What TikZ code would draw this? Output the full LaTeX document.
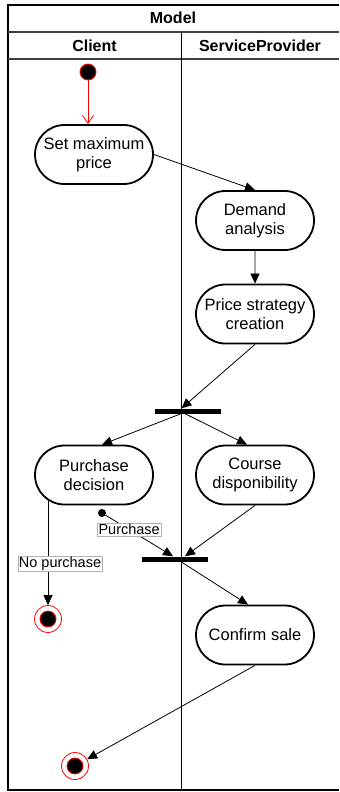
\documentclass[tikz,border=0pt]{standalone}
\usepackage{fontspec}
\setmainfont{Liberation Sans}
\usetikzlibrary{shapes.misc,arrows.meta}

\begin{document}
\begin{tikzpicture}[x=1bp,y=-1bp,
  action/.style={draw,line width=1.8bp,rounded rectangle,minimum width=122bp,
    minimum height=59bp,inner sep=2bp,align=center,
    font=\fontsize{16.5bp}{18.5bp}\selectfont},
  bar/.style={fill=black,minimum width=66bp,minimum height=5bp,inner sep=0pt},
  initial/.style={circle,draw=red,fill=black,line width=0.8bp,minimum size=16bp,inner sep=0pt},
  final/.style={circle,draw=red,line width=0.8bp,minimum size=27bp,inner sep=0pt,
    path picture={\filldraw[draw=red,fill=black] (path picture bounding box.center) circle (8bp);}},
  dot/.style={circle,fill=black,minimum size=8bp,inner sep=0pt},
  flow/.style={-{Triangle[length=10bp,width=9bp]},line width=0.8bp},
  edgelabel/.style={fill=white,draw=gray!60,line width=0.4bp,inner sep=1bp,
    font=\fontsize{14.5bp}{16bp}\selectfont},
  head/.style={font=\bfseries\fontsize{16bp}{18bp}\selectfont}]
  \useasboundingbox (0,0) rectangle (339,792);

  % swimlanes
  \draw[line width=1.2bp] (339,5) -- (8,5) -- (8,790) -- (339,790);
  \draw[line width=1.6bp,black!75] (8,32) -- (339,32);
  \draw[line width=1.6bp,black!75] (8,59) -- (339,59);
  \draw[line width=1bp] (181.5,32) -- (181.5,790);
  \node[head] (model) at (173,18) {Model};
  \node[head] (client) at (94.5,45.5) {Client};
  \node[head] (provider) at (260,45.5) {ServiceProvider};

  % activities
  \node[initial] (start) at (88,72) {};
  \node[action] (setprice) at (94,154.5) {Set maximum\\price};
  \node[action] (demand) at (255,220.5) {Demand\\analysis};
  \node[action] (strategy) at (255,314) {Price strategy\\creation};
  \node[bar] (fork) at (188,411) {};
  \node[action] (purchase) at (94,475) {Purchase\\decision};
  \node[action] (course) at (255,475) {Course\\disponibility};
  \node[dot] (pdot) at (102,513) {};
  \node[bar] (join) at (175,559) {};
  \node[final] (endno) at (48,619) {};
  \node[action] (confirm) at (255,635) {Confirm sale};
  \node[final] (endsale) at (75,766) {};

  % flows
  \draw[red,line width=0.8bp,-{Straight Barb[length=8bp,width=11bp]}] (start) -- (start |- setprice.north);
  \draw[flow] (setprice.east) -- (demand.north);
  \draw[flow] (demand) -- (strategy);
  \draw[flow] (strategy.south) -- ([xshift=-6.5bp]fork.north);
  \draw[flow] ([xshift=-7bp]fork.south) -- ([xshift=8bp]purchase.north);
  \draw[flow] ([xshift=-3bp]fork.south) -- ([xshift=-8bp]course.north);
  \draw[flow] (pdot) -- node[edgelabel,pos=0.35] {Purchase} ([xshift=-2bp]join.north);
  \draw[flow] (course.south) -- ([xshift=10bp]join.north);
  \draw[flow] ([yshift=4bp]purchase.south -| endno) -- node[edgelabel,pos=0.6,xshift=12bp] {No purchase} (endno);
  \draw[flow] ([xshift=6bp]join.south) -- ([xshift=-7bp]confirm.north);
  \draw[flow] (confirm.south) -- (endsale);
\end{tikzpicture}
\end{document}
